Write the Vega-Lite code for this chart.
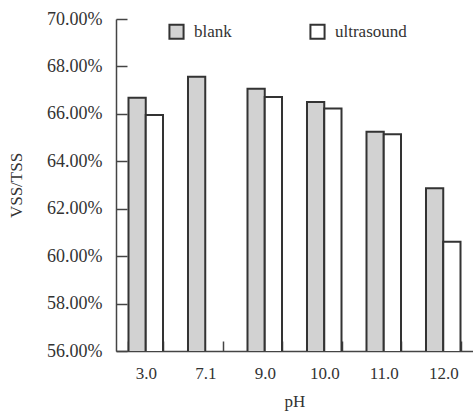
{
  "$schema": "https://vega.github.io/schema/vega-lite/v6.json",
  "width": 357,
  "height": 332,
  "autosize": "none",
  "padding": {"left": 116, "top": 19, "right": 0, "bottom": 60},
  "background": "white",
  "config": {
    "view": {"stroke": null},
    "font": "Liberation Serif",
    "axis": {"grid": false, "domainColor": "#444", "tickColor": "#444", "domainWidth": 1.5, "tickWidth": 1.5, "labelColor": "#333", "titleColor": "#333", "labelFont": "Liberation Serif", "titleFont": "Liberation Serif", "titleFontWeight": "normal", "labelFontSize": 17, "titleFontSize": 17}
  },
  "data": {
    "values": [
      {"pH": "3.0", "series": "blank", "value": 0.6668},
      {"pH": "3.0", "series": "ultrasound", "value": 0.6595},
      {"pH": "7.1", "series": "blank", "value": 0.6757},
      {"pH": "9.0", "series": "blank", "value": 0.6706},
      {"pH": "9.0", "series": "ultrasound", "value": 0.6671},
      {"pH": "10.0", "series": "blank", "value": 0.6650},
      {"pH": "10.0", "series": "ultrasound", "value": 0.6623},
      {"pH": "11.0", "series": "blank", "value": 0.6525},
      {"pH": "11.0", "series": "ultrasound", "value": 0.6514},
      {"pH": "12.0", "series": "blank", "value": 0.6286},
      {"pH": "12.0", "series": "ultrasound", "value": 0.6061}
    ]
  },
  "mark": {"type": "bar", "stroke": "#333", "strokeWidth": 2, "clip": true},
  "encoding": {
    "x": {
      "field": "pH", "type": "nominal", "sort": null,
      "scale": {"paddingInner": 0.42, "paddingOuter": 0.21},
      "axis": {"title": "pH", "labelAngle": 0, "tickBand": "extent", "tickSize": -10, "labelPadding": 24, "titlePadding": 12}
    },
    "xOffset": {"field": "series", "type": "nominal"},
    "y": {
      "field": "value", "type": "quantitative",
      "scale": {"domain": [0.56, 0.70], "zero": false, "nice": false},
      "axis": {"title": "VSS/TSS", "format": ".2%", "values": [0.56, 0.58, 0.60, 0.62, 0.64, 0.66, 0.68, 0.70], "tickSize": -11, "labelPadding": 25, "labelFontSize": 18, "titlePadding": 21}
    },
    "fill": {
      "field": "series", "type": "nominal",
      "scale": {"domain": ["blank", "ultrasound"], "range": ["#d2d2d2", "#ffffff"]},
      "legend": {"title": null, "orient": "none", "legendX": 52, "legendY": 4, "direction": "horizontal", "symbolType": "square", "symbolSize": 200, "symbolStrokeColor": "#333", "symbolStrokeWidth": 2, "labelFont": "Liberation Serif", "labelFontSize": 17, "labelColor": "#333", "columnPadding": 74, "labelOffset": 9}
    }
  }
}
